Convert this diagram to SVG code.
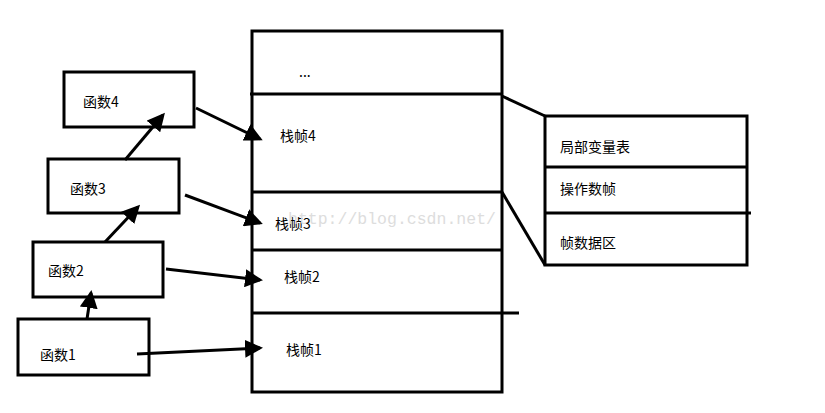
<svg xmlns="http://www.w3.org/2000/svg" width="825" height="413" viewBox="0 0 825 413">
<style>
.b{fill:none;stroke:#000;stroke-width:3}
.t{font-family:"Noto Sans CJK SC","Liberation Sans",sans-serif;font-size:14px;fill:#000}
.c line{stroke:#000;stroke-width:3}
</style>
<defs><marker id="a" markerWidth="6" markerHeight="6" refX="5" refY="3" orient="auto" markerUnits="strokeWidth"><path d="M0,0 L6,3 L0,6 z" fill="#000"/></marker></defs>
<rect width="825" height="413" fill="#fff"/>
<g id="stack">
<rect class="b" x="252" y="31" width="250" height="361"/>
<line class="b" x1="250" y1="94" x2="502" y2="94"/>
<line class="b" x1="252" y1="192" x2="502" y2="192"/>
<line class="b" x1="252" y1="250" x2="502" y2="250"/>
<line class="b" x1="252" y1="313" x2="519" y2="313"/>
<text class="t" x="299" y="77">...</text>
<text class="t" x="280" y="141">栈帧4</text>
<text class="t" x="275" y="229">栈帧3</text>
<text class="t" x="284" y="282">栈帧2</text>
<text class="t" x="286" y="355">栈帧1</text>
<text x="288" y="224" font-family="Liberation Mono,monospace" font-size="16.5" fill="#ddd">http://blog.csdn.net/</text>
</g>
<g id="frame">
<rect class="b" x="545" y="116" width="202" height="149"/>
<line class="b" x1="545" y1="167" x2="747" y2="167"/>
<line class="b" x1="545" y1="213" x2="751" y2="213"/>
<text class="t" x="560" y="152">局部变量表</text>
<text class="t" x="560" y="194">操作数帧</text>
<text class="t" x="560" y="248">帧数据区</text>
</g>
<g id="f4"><rect class="b" x="64" y="72" width="130" height="55"/><text class="t" x="83" y="107">函数4</text></g>
<g id="f3"><rect class="b" x="48" y="159" width="131" height="54"/><text class="t" x="70" y="194">函数3</text></g>
<g id="f2"><rect class="b" x="33" y="242" width="130" height="55"/><text class="t" x="48" y="276">函数2</text></g>
<g id="f1"><rect class="b" x="18" y="319" width="131" height="56"/><text class="t" x="40" y="360">函数1</text></g>
<g class="c">
<line x1="502" y1="96" x2="545" y2="116"/>
<line x1="502" y1="192" x2="545" y2="265"/>
<line x1="87" y1="319" x2="91" y2="293" marker-end="url(#a)"/>
<line x1="105" y1="242" x2="138" y2="207" marker-end="url(#a)"/>
<line x1="125" y1="160" x2="163" y2="115" marker-end="url(#a)"/>
<line x1="196" y1="108" x2="260" y2="139" marker-end="url(#a)"/>
<line x1="185" y1="195" x2="260" y2="223" marker-end="url(#a)"/>
<line x1="166" y1="269" x2="260" y2="280" marker-end="url(#a)"/>
<line x1="137" y1="354" x2="260" y2="348" marker-end="url(#a)"/>
</g>
</svg>
